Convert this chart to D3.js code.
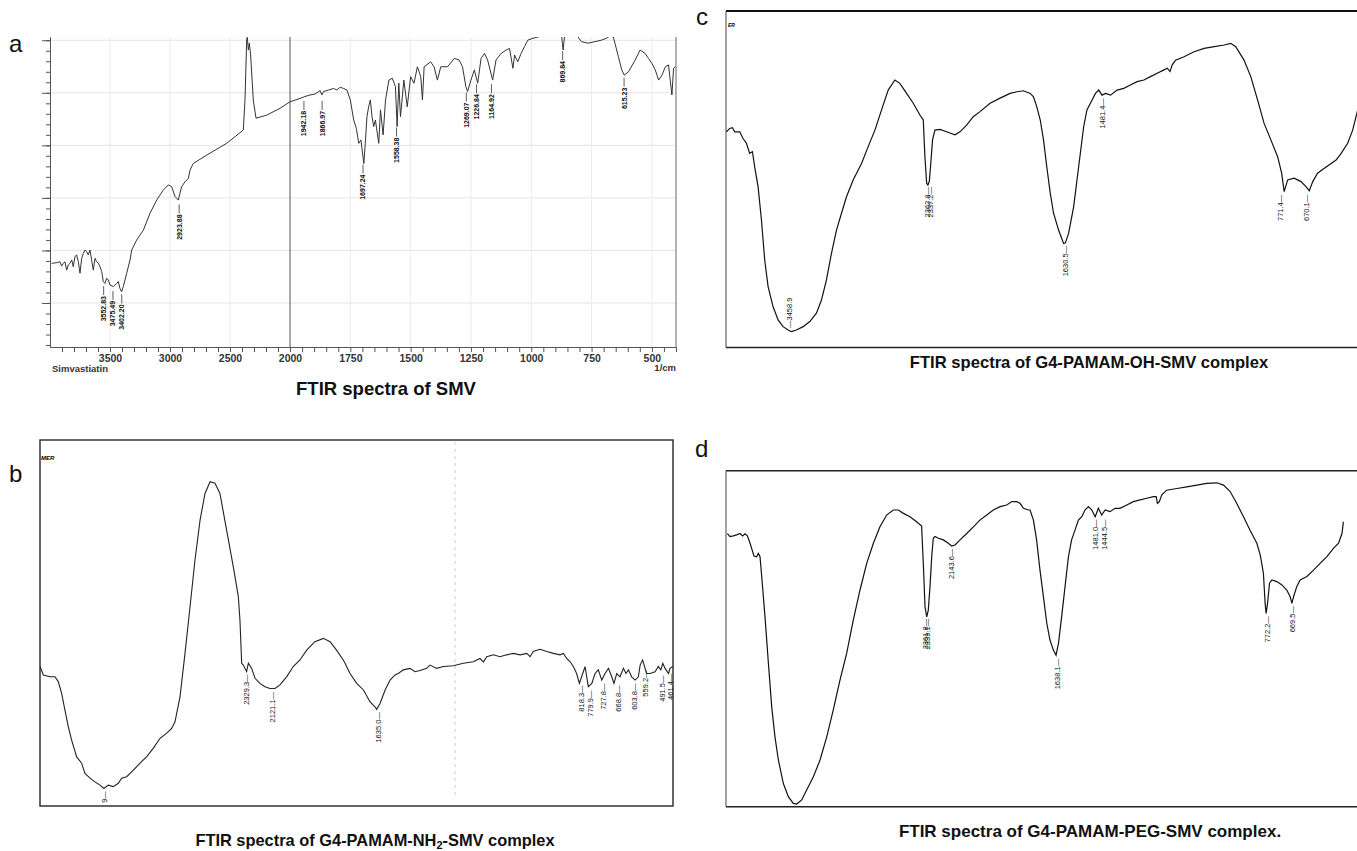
<!DOCTYPE html>
<html>
<head>
<meta charset="utf-8">
<script src="https://cdn.jsdelivr.net/npm/d3@7"></script>
<style>
body { margin: 0; background: #fff; }
svg { display: block; font-family: "Liberation Sans", Arial, sans-serif; }
.peak { font-family: "Liberation Sans Narrow", "Liberation Sans", sans-serif; font-size: 7.5px; fill: #111; }
.title { font-weight: bold; font-size: 16.6px; fill: #111; }
.letter { font-size: 24px; fill: #111; }
.axlab { font-family: "Liberation Sans Narrow", "Liberation Sans", sans-serif; font-weight: bold; font-size: 10.5px; fill: #333; }
</style>
</head>
<body>
<div id="main"><svg width="1357" height="851"></svg></div>
<script>
// spectra: [wavenumber (1/cm), transmittance (relative %)]
var smvSpectrum = [[3986,27.0],[3944,27.2],[3917,27.5],[3903,26.1],[3889,27.0],[3875,27.5],[3861,24.8],[3847,26.5],[3833,27.0],[3819,28.1],[3806,25.9],[3792,29.1],[3778,29.7],[3764,27.5],[3750,23.8],[3736,28.6],[3722,30.2],[3708,31.3],[3694,30.7],[3681,29.7],[3667,31.3],[3653,28.1],[3639,24.8],[3625,28.6],[3611,27.5],[3597,27.0],[3583,25.9],[3569,24.3],[3556,21.1],[3542,20.5],[3528,22.2],[3514,21.6],[3500,20.0],[3472,19.5],[3444,20.5],[3431,21.1],[3417,18.9],[3403,17.8],[3389,19.5],[3361,23.8],[3333,28.1],[3319,31.3],[3278,34.5],[3222,37.7],[3167,43.1],[3111,47.4],[3056,50.6],[3014,52.3],[2986,51.7],[2958,48.5],[2931,47.4],[2903,51.7],[2875,53.3],[2847,54.4],[2833,57.1],[2806,59.2],[2694,61.9],[2528,65.7],[2389,70.0],[2375,79.7],[2361,99.0],[2356,99.9],[2347,95.8],[2339,98.0],[2328,94.2],[2306,79.7],[2283,73.8],[2194,74.8],[2083,77.0],[2000,79.1],[1958,80.2],[1938,80.8],[1917,81.3],[1896,81.6],[1875,82.7],[1868,81.3],[1861,82.4],[1840,82.9],[1819,83.4],[1806,82.9],[1792,83.8],[1778,83.4],[1764,82.9],[1750,79.7],[1736,73.2],[1725,70.5],[1715,65.7],[1706,66.8],[1694,59.2],[1688,65.7],[1681,74.3],[1674,77.5],[1667,79.7],[1660,74.3],[1653,71.1],[1646,73.2],[1632,65.7],[1625,76.5],[1614,68.4],[1604,79.7],[1590,86.1],[1576,86.7],[1563,84.0],[1556,71.1],[1549,85.1],[1542,74.3],[1528,86.1],[1514,77.5],[1500,87.2],[1486,85.1],[1472,90.4],[1458,87.2],[1451,79.7],[1444,90.4],[1417,92.0],[1403,90.4],[1389,86.1],[1375,90.4],[1347,90.4],[1319,93.1],[1299,92.6],[1285,90.4],[1271,84.0],[1264,82.4],[1250,86.1],[1236,89.4],[1222,85.1],[1208,93.1],[1194,94.7],[1181,92.6],[1160,86.1],[1146,92.6],[1125,94.7],[1104,95.8],[1090,96.3],[1076,89.9],[1069,94.2],[1056,92.0],[1042,94.7],[1028,96.9],[1014,99.0],[993,99.6],[972,100],[931,101],[917,101],[875,101],[871,98],[868,95.8],[865,98],[861,101],[819,101],[806,100],[792,98.5],[764,98.0],[736,98.5],[708,99.0],[688,99.6],[674,100.3],[660,100],[653,98.0],[639,93.7],[625,89.4],[614,87.7],[597,88.8],[569,92.6],[549,95.8],[528,94.7],[514,93.1],[500,91.5],[486,89.4],[472,86.1],[458,87.7],[444,90.4],[431,91.0],[417,81.3],[410,89.9],[403,90.4]];

var nh2Spectrum = [[4000,38.1],[3973,35.8],[3919,35.3],[3879,35.3],[3852,34.0],[3825,30.8],[3798,26.2],[3771,21.7],[3744,18.0],[3703,13.4],[3663,11.7],[3636,8.9],[3595,7.6],[3555,6.6],[3514,5.7],[3482,4.8],[3447,5.7],[3406,5.3],[3366,6.2],[3339,7.6],[3298,8.0],[3244,9.8],[3190,11.7],[3136,13.5],[3082,15.8],[3028,18.5],[2974,19.9],[2934,21.2],[2907,23.0],[2866,29.9],[2826,41.7],[2785,54.5],[2745,67.2],[2704,78.1],[2664,85.4],[2623,88.6],[2583,88.2],[2543,85.4],[2489,75.4],[2435,65.4],[2394,57.2],[2381,50.8],[2367,39.0],[2354,38.5],[2327,36.7],[2313,39.0],[2286,37.6],[2259,34.9],[2219,33.5],[2178,32.6],[2138,32.1],[2097,32.1],[2057,33.1],[2003,35.3],[1975,38.1],[1948,39.9],[1921,42.6],[1888,44.9],[1854,45.8],[1827,44.9],[1801,42.6],[1774,39.9],[1767,39.0],[1747,36.2],[1720,33.5],[1693,31.7],[1667,28.5],[1647,27.1],[1640,26.4],[1626,28.1],[1606,31.7],[1586,34.4],[1566,35.8],[1553,36.2],[1533,37.2],[1506,37.6],[1486,36.7],[1466,37.0],[1439,37.6],[1426,38.5],[1399,37.6],[1372,38.1],[1332,38.3],[1292,39.0],[1252,39.4],[1225,40.3],[1211,39.4],[1198,40.8],[1171,41.3],[1145,40.8],[1118,41.3],[1091,41.7],[1064,41.3],[1037,41.7],[1024,40.8],[1011,42.2],[984,42.8],[957,42.2],[930,41.7],[904,41.3],[890,41.7],[877,40.3],[863,39.4],[850,38.1],[837,36.2],[826,33.5],[817,35.3],[803,38.1],[790,32.6],[776,33.5],[763,36.2],[750,37.2],[736,34.4],[723,36.2],[709,37.6],[696,35.3],[687,33.5],[676,36.2],[663,35.3],[649,37.6],[639,36.2],[629,37.2],[616,35.3],[602,34.4],[589,35.3],[582,38.5],[572,39.9],[566,38.5],[556,36.2],[542,36.2],[522,36.7],[509,38.1],[499,37.2],[491,39.0],[482,37.6],[468,36.2],[462,37.6],[451,38.1]];

var ohSpectrum = [[3965,64.1],[3938,65.1],[3917,65.3],[3898,64.1],[3858,64.1],[3832,62.1],[3805,60.7],[3779,57.7],[3757,58.2],[3739,53.7],[3712,47.8],[3685,37.9],[3659,26.0],[3632,18.1],[3592,12.1],[3552,8.2],[3512,6.2],[3472,5.2],[3446,4.7],[3406,5.2],[3352,6.2],[3299,7.7],[3246,10.2],[3206,14.1],[3166,20.1],[3126,28.0],[3086,34.9],[3046,39.9],[3006,44.8],[2953,49.8],[2886,54.7],[2833,59.7],[2779,64.6],[2726,70.6],[2673,76.5],[2620,79.5],[2580,78.5],[2526,75.5],[2473,72.6],[2420,69.1],[2393,67.6],[2380,56.7],[2366,48.8],[2356,48.3],[2345,49.3],[2335,53.7],[2319,61.7],[2300,64.6],[2260,64.8],[2207,64.1],[2140,63.2],[2100,64.1],[2047,66.1],[1997,68.6],[1970,70.1],[1930,72.6],[1890,74.1],[1850,75.5],[1823,76.0],[1797,76.3],[1770,75.5],[1757,74.5],[1744,71.6],[1730,67.6],[1717,61.7],[1704,53.7],[1690,45.8],[1677,39.9],[1657,34.9],[1637,30.9],[1630,31.1],[1617,33.9],[1597,41.8],[1577,53.7],[1557,65.6],[1544,70.6],[1530,72.6],[1510,75.5],[1497,76.5],[1484,75.0],[1470,75.5],[1450,75.0],[1424,76.5],[1397,77.0],[1371,78.0],[1344,79.0],[1317,79.5],[1291,80.5],[1264,81.5],[1237,82.5],[1224,83.0],[1213,82.0],[1204,84.0],[1191,85.4],[1157,86.4],[1117,87.9],[1077,88.9],[1037,89.4],[997,89.9],[971,90.4],[951,89.4],[918,85.4],[891,80.5],[864,73.6],[838,66.6],[811,61.7],[784,56.7],[768,51.8],[758,46.3],[744,49.8],[718,50.3],[691,49.3],[671,47.8],[658,46.6],[644,49.3],[625,51.8],[598,53.3],[571,54.7],[551,55.7],[531,57.7],[505,60.7],[485,64.6],[465,70.6]];

var pegSpectrum = [[3989,81.3],[3967,80.4],[3940,80.6],[3912,80.9],[3885,81.3],[3863,80.6],[3844,81.2],[3824,80.6],[3802,78.4],[3789,76.9],[3770,74.6],[3748,74.4],[3734,75.4],[3720,74.4],[3706,68.5],[3679,56.5],[3651,42.7],[3624,29.8],[3597,20.8],[3569,13.9],[3528,6.9],[3487,3.0],[3446,1.0],[3418,0.8],[3377,2.0],[3336,5.0],[3281,8.9],[3226,13.9],[3171,20.8],[3117,28.8],[3062,37.7],[3007,45.6],[2952,55.6],[2897,64.5],[2842,72.4],[2787,78.4],[2733,83.3],[2678,86.8],[2623,88.3],[2582,88.3],[2540,87.3],[2486,86.3],[2431,84.8],[2390,83.5],[2376,72.4],[2362,59.5],[2348,56.5],[2335,58.5],[2321,65.5],[2307,74.4],[2294,79.9],[2280,80.4],[2252,79.9],[2211,79.4],[2170,78.4],[2143,77.6],[2115,77.9],[2074,79.4],[2019,81.3],[1982,83.3],[1955,85.3],[1927,86.8],[1900,88.3],[1872,89.3],[1845,89.8],[1824,90.8],[1804,90.8],[1790,90.3],[1776,88.8],[1756,88.3],[1749,88.3],[1735,85.3],[1722,79.4],[1708,70.4],[1694,62.5],[1680,54.6],[1667,49.6],[1653,46.6],[1642,45.1],[1632,48.6],[1619,56.5],[1605,65.5],[1591,74.4],[1578,79.4],[1564,82.3],[1550,85.3],[1536,86.3],[1523,88.3],[1509,89.3],[1495,88.3],[1481,86.3],[1468,88.8],[1454,86.8],[1440,88.3],[1420,87.8],[1399,88.8],[1379,88.8],[1351,89.8],[1324,90.8],[1296,91.3],[1269,91.8],[1241,92.3],[1230,92.3],[1225,90.3],[1217,90.8],[1207,92.8],[1187,94.2],[1145,94.7],[1104,95.2],[1063,95.7],[1022,96.2],[981,96.4],[953,95.7],[926,93.8],[899,90.3],[871,86.3],[844,82.3],[816,78.4],[802,74.9],[796,72.4],[789,69.4],[782,60.5],[778,57.5],[772,60.5],[764,66.5],[754,67.5],[734,67.0],[713,66.0],[693,64.5],[679,62.5],[672,60.5],[665,62.5],[652,65.5],[638,67.5],[610,68.5],[583,70.4],[556,72.4],[528,74.4],[501,76.9],[480,78.4],[466,81.3],[460,84.8]];

// peak labels: [text, wavenumber, transmittance at the tip]
var smvPeaks = [['3552.83',3552.83,20.0],['3475.49',3475.49,18.4],['3402.20',3402.20,17.3],['2923.88',2923.88,46.3],['1942.18',1942.18,79.7],['1866.97',1866.97,79.7],['1697.24',1697.24,59.2],['1558.38',1558.38,71.1],['1269.07',1269.07,82.4],['1226.84',1226.84,85.1],['1164.92',1164.92,85.1],['869.84',869.84,95.8],['615.23',615.23,87.2]];
var nh2Peaks = [['9',3482,4.6],['2329.3',2329.3,36.5],['2121.1',2121.1,31.7],['1635.0',1635.0,26.2],['818.3',818.3,33.5],['779.9',779.9,32.1],['727.8',727.8,34.0],['668.8',668.8,33.5],['603.8',603.8,34.0],['559.2',559.2,37.6],['491.5',491.5,36.2],['461.4',461.4,36.7]];
var ohPeaks = [['3458.9',3458.9,5.2],['2362.8',2362.8,48.3],['2337.2',2337.2,48.3],['1630.5',1630.5,30.8],['1481.4',1481.4,74.7],['771.4',771.4,46.0],['670.1',670.1,46.0]];
var pegPeaks = [['2361.8',2361.8,56.5],['2339.1',2339.1,56.5],['2143.6',2143.6,77.4],['1638.1',1638.1,44.6],['1481.0',1481.0,86.1],['1444.5',1444.5,86.1],['772.2',772.2,57.3],['669.5',669.5,60.3]];
var upLabels = ['3458.9'];

// panel a axis ticks
var aLabelled = [3500, 3000, 2500, 2000, 1750, 1500, 1250, 1000, 750, 500];
var aXTicks = d3.range(3900, 2000, -100).concat(d3.range(2000, 399, -50));
var aYMajor = d3.range(6).map(function(i) {return 14.2 + i * 16.95;});
var aYMinor = d3.range(-4, 26).map(function(i) {return 14.2 + i * 3.39;}).filter(function(v) {return v >= 0 && v <= 100;});

var titles = {
  a: 'FTIR spectra of SMV',
  c: 'FTIR spectra of G4-PAMAM-OH-SMV complex',
  d: 'FTIR spectra of G4-PAMAM-PEG-SMV complex.'
};

var svg = d3.select('#main svg');

function spectrumLine(x, y) {
  return d3.line()
    .x(function(d) {return x(d[0]);})
    .y(function(d) {return y(d[1]);});
}

function clipRect(id, r) {
  svg.append('clipPath').attr('id', id).append('rect')
    .attr('x', r[0]).attr('y', r[1]).attr('width', r[2]).attr('height', r[3]);
}

function drawPeaks(cell, peaks, x, y) {
  cell.append('g').selectAll('text').data(peaks)
    .enter().append('text')
    .attr('class', 'peak')
    .attr('transform', function(d) {
      var up = upLabels.indexOf(d[0]) >= 0;
      return 'translate(' + [x(d[1]), y(d[2]) + (up ? -2 : 2)] + ') rotate(-90)';
    })
    .attr('text-anchor', function(d) {return upLabels.indexOf(d[0]) >= 0 ? 'start' : 'end';})
    .attr('dy', '0.35em')
    .text(function(d) {return upLabels.indexOf(d[0]) >= 0 ? '\u2014' + d[0] : d[0] + '\u2014';});
}

// ---------- panel a : SMV (Shimadzu style) ----------
var aX = d3.scaleLinear().domain([4000, 2000, 400]).range([50, 290, 676]);
var aY = d3.scaleLinear().domain([0, 100]).range([347, 37]);
var aCell = svg.append('g');
clipRect('clipA', [50, 37, 626, 310]);

aCell.selectAll('.gy').data(aYMajor).enter().append('line')
  .attr('x1', 50).attr('x2', 676)
  .attr('y1', function(d) {return aY(d);}).attr('y2', function(d) {return aY(d);})
  .style('stroke', '#e4e4e4');
aCell.selectAll('.gx').data(aLabelled.filter(function(d) {return d !== 2000;})).enter().append('line')
  .attr('y1', 37).attr('y2', 347)
  .attr('x1', function(d) {return aX(d);}).attr('x2', function(d) {return aX(d);})
  .style('stroke', '#ececec');

aCell.append('line').attr('x1', aX(2000)).attr('x2', aX(2000)).attr('y1', 37).attr('y2', 347)
  .style('stroke', '#555');
aCell.append('line').attr('x1', 676).attr('x2', 676).attr('y1', 37).attr('y2', 347)
  .style('stroke', '#666');

var axB = aCell.append('g').attr('transform', 'translate(' + [0, 347] + ')')
  .call(d3.axisBottom(aX).tickValues(aXTicks).tickSize(5).tickSizeOuter(0)
    .tickFormat(function(d) {return aLabelled.indexOf(d) >= 0 ? d : '';}));
axB.selectAll('text').attr('class', 'axlab').attr('y', 8);
axB.selectAll('path, line').style('stroke', '#555');

aCell.append('g').attr('transform', 'translate(' + [50, 0] + ')')
  .call(d3.axisLeft(aY).tickValues(aYMinor).tickSize(4).tickSizeOuter(0).tickFormat(''));
aCell.append('g').attr('transform', 'translate(' + [50, 0] + ')')
  .call(d3.axisLeft(aY).tickValues(aYMajor).tickSize(8).tickSizeOuter(0).tickFormat(''));
aCell.selectAll('.tick line, .domain').style('stroke', '#555');

aCell.append('path').datum(smvSpectrum)
  .attr('d', spectrumLine(aX, aY))
  .attr('clip-path', 'url(#clipA)')
  .style('fill', 'none').style('stroke', '#333').style('stroke-width', 1);

var aPk = aCell.append('g').selectAll('g').data(smvPeaks).enter().append('g')
  .attr('transform', function(d) {return 'translate(' + [aX(d[1]), aY(d[2])] + ')';});
aPk.append('line').attr('y1', 1).attr('y2', 10).style('stroke', '#333').style('stroke-width', 0.8);
aPk.append('text').attr('class', 'peak')
  .attr('transform', 'translate(0,11) rotate(-90)')
  .attr('text-anchor', 'end').attr('dy', '0.35em')
  .style('font-weight', 'bold').style('font-size', '7px')
  .text(function(d) {return d[0];});

aCell.append('text').attr('x', 52).attr('y', 372)
  .style('font-weight', 'bold').style('font-size', '9.5px').style('fill', '#333')
  .text('Simvastiatin');
aCell.append('text').attr('x', 676).attr('y', 371).attr('text-anchor', 'end')
  .style('font-weight', 'bold').style('font-size', '9.5px').style('fill', '#333')
  .text('1/cm');
aCell.append('text').attr('class', 'title').attr('x', 386).attr('y', 395)
  .attr('text-anchor', 'middle').style('font-size', '18.5px').text(titles.a);
svg.append('text').attr('class', 'letter').attr('x', 9).attr('y', 52).text('a');

// ---------- panel b : G4-PAMAM-NH2-SMV ----------
var bX = d3.scaleLinear().domain([4000, 2000, 450]).range([40, 287, 673]);
var bY = d3.scaleLinear().domain([0, 100]).range([806, 440]);
var bCell = svg.append('g');
clipRect('clipB', [40, 440, 633, 366]);

bCell.append('line').attr('x1', bX(1325)).attr('x2', bX(1325)).attr('y1', 442).attr('y2', 795)
  .style('stroke', '#cfcfcf').style('stroke-dasharray', '3,4');
bCell.append('rect').attr('x', 40).attr('y', 440).attr('width', 633).attr('height', 366)
  .style('fill', 'none').style('stroke', '#333').style('stroke-width', 1.5);
bCell.append('text').attr('x', 41).attr('y', 460)
  .style('font-size', '6px').style('font-weight', 'bold').style('font-style', 'italic')
  .text('MER');
bCell.append('path').datum(nh2Spectrum)
  .attr('d', spectrumLine(bX, bY))
  .attr('clip-path', 'url(#clipB)')
  .style('fill', 'none').style('stroke', '#222').style('stroke-width', 1.1);
drawPeaks(bCell, nh2Peaks, bX, bY);

var bTitle = bCell.append('text').attr('class', 'title').attr('x', 375).attr('y', 846)
  .attr('text-anchor', 'middle').style('font-size', '16.4px');
bTitle.append('tspan').text('FTIR spectra of G4-PAMAM-NH');
bTitle.append('tspan').attr('dy', 3).style('font-size', '11px').text('2');
bTitle.append('tspan').attr('dy', -3).text('-SMV complex');
svg.append('text').attr('class', 'letter').attr('x', 9).attr('y', 482).text('b');

// ---------- panel c : G4-PAMAM-OH-SMV ----------
var cX = d3.scaleLinear().domain([4000, 2000, 400]).range([722, 972.5, 1374]);
var cY = d3.scaleLinear().domain([0, 100]).range([347.5, 11]);
var cCell = svg.append('g');
clipRect('clipC', [726, 11, 631, 337]);

cCell.append('line').attr('x1', 726).attr('x2', 1357).attr('y1', 11).attr('y2', 11)
  .style('stroke', '#111').style('stroke-width', 2);
cCell.append('line').attr('x1', 726).attr('x2', 1357).attr('y1', 347.5).attr('y2', 347.5)
  .style('stroke', '#222').style('stroke-width', 1.5);
cCell.append('line').attr('x1', 726).attr('x2', 726).attr('y1', 11).attr('y2', 347.5)
  .style('stroke', '#444').style('stroke-width', 1);
cCell.append('text').attr('x', 728).attr('y', 27)
  .style('font-size', '5px').style('font-weight', 'bold').style('font-style', 'italic')
  .text('ER');
cCell.append('path').datum(ohSpectrum)
  .attr('d', spectrumLine(cX, cY))
  .attr('clip-path', 'url(#clipC)')
  .style('fill', 'none').style('stroke', '#111').style('stroke-width', 1.2);
drawPeaks(cCell, ohPeaks, cX, cY);
cCell.append('text').attr('class', 'title').attr('x', 1089).attr('y', 368)
  .attr('text-anchor', 'middle').text(titles.c);
svg.append('text').attr('class', 'letter').attr('x', 696).attr('y', 25).text('c');

// ---------- panel d : G4-PAMAM-PEG-SMV ----------
var dX = d3.scaleLinear().domain([4000, 2000, 400]).range([726, 969, 1358]);
var dY = d3.scaleLinear().domain([0, 100]).range([806.7, 470.7]);
var dCell = svg.append('g');
clipRect('clipD', [726, 470.7, 631, 336]);

dCell.append('line').attr('x1', 726).attr('x2', 1357).attr('y1', 470.7).attr('y2', 470.7)
  .style('stroke', '#222').style('stroke-width', 1.6);
dCell.append('line').attr('x1', 726).attr('x2', 1357).attr('y1', 806.7).attr('y2', 806.7)
  .style('stroke', '#222').style('stroke-width', 1.6);
dCell.append('line').attr('x1', 726).attr('x2', 726).attr('y1', 470.7).attr('y2', 806.7)
  .style('stroke', '#444').style('stroke-width', 1);
dCell.append('path').datum(pegSpectrum)
  .attr('d', spectrumLine(dX, dY))
  .attr('clip-path', 'url(#clipD)')
  .style('fill', 'none').style('stroke', '#111').style('stroke-width', 1.2);
drawPeaks(dCell, pegPeaks, dX, dY);
dCell.append('text').attr('class', 'title').attr('x', 1090).attr('y', 837)
  .attr('text-anchor', 'middle').style('font-size', '17px').text(titles.d);
svg.append('text').attr('class', 'letter').attr('x', 695).attr('y', 457).text('d');
</script>
</body>
</html>
